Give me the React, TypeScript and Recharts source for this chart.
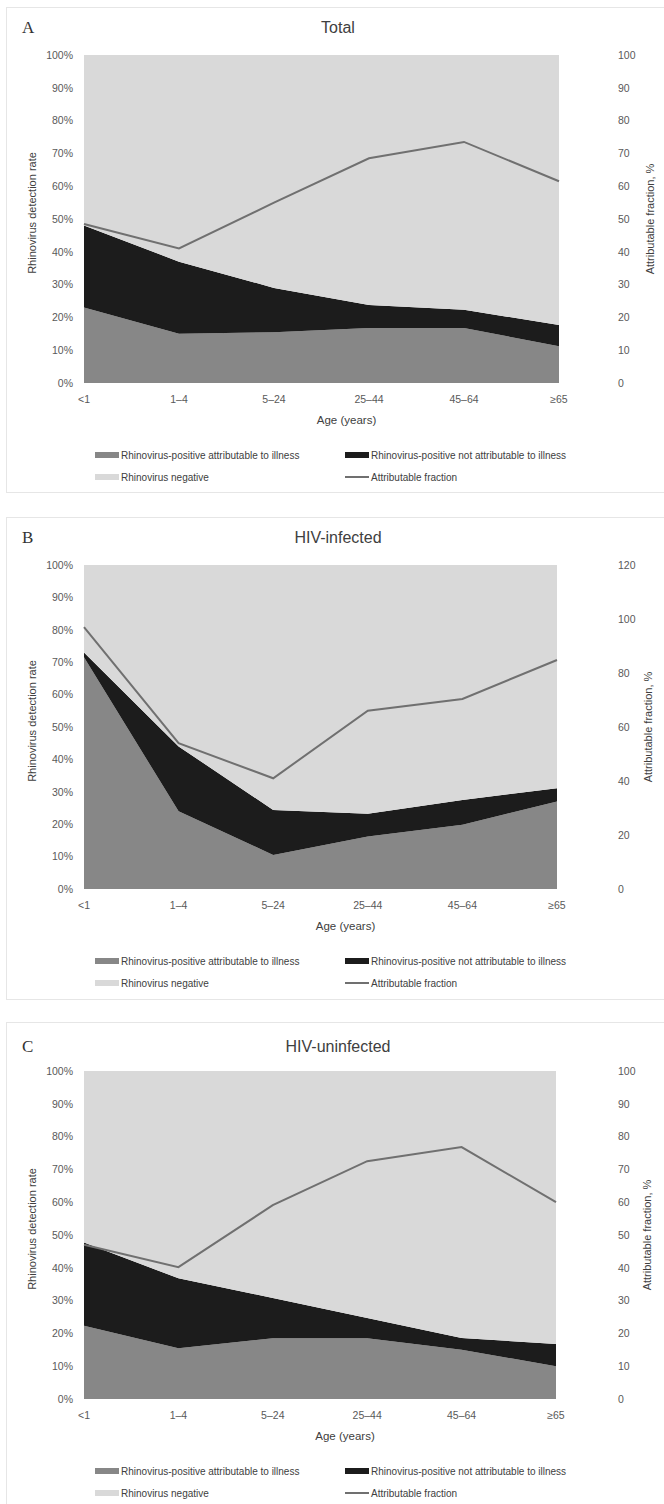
import React from 'react';
import {Area, ComposedChart, Label, Legend, Line, XAxis, YAxis} from 'recharts';

const ageGroups = ['<1', '1–4', '5–24', '25–44', '45–64', '≥65'];

// Panel A - Total
const totalAttrib = [23, 15, 15.5, 16.8, 16.8, 11.2];
const totalNotAttrib = [25, 22, 13.5, 7, 5.5, 6.5];
const totalFraction = [48.5, 41, 55, 68.5, 73.5, 61.5];

// Panel B - HIV-infected
const hivPosAttrib = [71.5, 24, 10.5, 16.2, 19.8, 27];
const hivPosNotAttrib = [1.5, 20, 13.9, 7, 7.7, 4.1];
const hivPosFraction = [97, 54, 41, 66, 70.4, 84.8];

// Panel C - HIV-uninfected
const hivNegAttrib = [22.3, 15.5, 18.5, 18.5, 15, 10];
const hivNegNotAttrib = [25.4, 21.3, 12.3, 6.2, 3.6, 6.8];
const hivNegFraction = [47, 40.2, 59.1, 72.5, 76.8, 60];

const leftTicks = [0, 10, 20, 30, 40, 50, 60, 70, 80, 90, 100];
const rightTicks100 = [0, 10, 20, 30, 40, 50, 60, 70, 80, 90, 100];
const rightTicks120 = [0, 20, 40, 60, 80, 100, 120];

const COLORS = {
    attrib: '#878787',
    notAttrib: '#1c1c1c',
    negative: '#d9d9d9',
    fraction: '#707070',
};

const legendItems = [
    {key: 'attrib', name: 'Rhinovirus-positive attributable to illness', color: COLORS.attrib, kind: 'area'},
    {key: 'notAttrib', name: 'Rhinovirus-positive not attributable to illness', color: COLORS.notAttrib, kind: 'area'},
    {key: 'negative', name: 'Rhinovirus negative', color: COLORS.negative, kind: 'area'},
    {key: 'fraction', name: 'Attributable fraction', color: COLORS.fraction, kind: 'line'},
];

const buildRows = (attrib: number[], notAttrib: number[], fraction: number[]) =>
    ageGroups.map((age, i) => ({
        age,
        attrib: attrib[i],
        notAttrib: notAttrib[i],
        negative: 100 - attrib[i] - notAttrib[i],
        fraction: fraction[i],
    }));

const panels = [
    {
        letter: 'A', title: 'Total', top: 7, height: 486, titleY: 21, plotTop: 48, plotHeight: 328, plotRight: 559,
        rows: buildRows(totalAttrib, totalNotAttrib, totalFraction), rightMax: 100, rightTicks: rightTicks100,
    },
    {
        letter: 'B', title: 'HIV-infected', top: 517, height: 483, titleY: 21, plotTop: 48, plotHeight: 324, plotRight: 557,
        rows: buildRows(hivPosAttrib, hivPosNotAttrib, hivPosFraction), rightMax: 120, rightTicks: rightTicks120,
    },
    {
        letter: 'C', title: 'HIV-uninfected', top: 1022, height: 490, titleY: 25, plotTop: 49, plotHeight: 328, plotRight: 556,
        rows: buildRows(hivNegAttrib, hivNegNotAttrib, hivNegFraction), rightMax: 100, rightTicks: rightTicks100,
    },
];

const FONT = '"Liberation Sans", Arial, sans-serif';
const tickStyle = {fill: '#595959', fontSize: 10.5, fontFamily: FONT};

const LegendBlock = () => {
    const cols = [95, 345];
    const rowsY = [10, 32];
    return (
        <div style={{position: 'relative', width: 664, height: 44, fontFamily: FONT, fontSize: 10, color: '#404040'}}>
            {legendItems.map((item, i) => {
                const x = cols[i % 2];
                const y = rowsY[Math.floor(i / 2)];
                return (
                    <div key={item.key} style={{position: 'absolute', left: x, top: y - 7, height: 14, display: 'flex', alignItems: 'center', whiteSpace: 'nowrap'}}>
                        {item.kind === 'area'
                            ? <span style={{display: 'inline-block', width: 24, height: 6, background: item.color}}/>
                            : <span style={{display: 'inline-block', width: 24, height: 2, background: item.color}}/>}
                        <span style={{marginLeft: 2}}>{item.name}</span>
                    </div>
                );
            })}
        </div>
    );
};

const Panel = ({p}: {p: typeof panels[number]}) => {
    const plotBottom = p.plotTop + p.plotHeight;
    const rightWidth = 95;
    const marginRight = 664 - p.plotRight - rightWidth;
    return (
        <div style={{position: 'absolute', left: 0, top: p.top, width: 664, height: p.height}}>
            <div style={{position: 'absolute', left: 6, top: 0, width: 720, height: p.height, boxSizing: 'border-box', border: '1px solid #e6e6e6'}}/>
            <div style={{position: 'absolute', left: 22, top: p.titleY - 10, lineHeight: '20px', fontFamily: '"Liberation Serif", serif', fontSize: 17, color: '#333'}}>
                {p.letter}
            </div>
            <div style={{position: 'absolute', left: 0, width: 676, top: p.titleY - 10, lineHeight: '20px', textAlign: 'center', fontFamily: FONT, fontSize: 16, color: '#404040'}}>
                {p.title}
            </div>
            <div style={{position: 'absolute', left: 0, top: 0}}>
                <ComposedChart
                    width={664}
                    height={plotBottom + 44 + 60}
                    data={p.rows}
                    margin={{top: p.plotTop, right: marginRight, left: 20, bottom: 60}}
                >
                    <XAxis
                        dataKey="age"
                        scale="point"
                        padding={{left: 0, right: 0}}
                        height={44}
                        axisLine={false}
                        tickLine={false}
                        tickSize={0}
                        tickMargin={13}
                        tick={tickStyle}
                    >
                        <Label value="Age (years)" position="insideBottom" offset={3} dx={25}
                               style={{fill: '#404040', fontSize: 11.5, fontFamily: FONT}}/>
                    </XAxis>
                    <YAxis
                        yAxisId="left"
                        width={64}
                        domain={[0, 100]}
                        ticks={leftTicks}
                        tickFormatter={(v) => `${v}%`}
                        axisLine={false}
                        tickLine={false}
                        tickSize={0}
                        tickMargin={11}
                        tick={tickStyle}
                        interval={0}
                    >
                        <Label value="Rhinovirus detection rate" position="insideLeft" offset={12} angle={-90} dy={-6}
                               style={{textAnchor: 'middle', fill: '#404040', fontSize: 11, fontFamily: FONT}}/>
                    </YAxis>
                    <YAxis
                        yAxisId="right"
                        orientation="right"
                        width={rightWidth}
                        domain={[0, p.rightMax]}
                        ticks={p.rightTicks}
                        axisLine={false}
                        tickLine={false}
                        tickSize={0}
                        tickMargin={618 - p.plotRight}
                        tick={tickStyle}
                        interval={0}
                    >
                        <Label value="Attributable fraction, %" position="insideRight" offset={4} angle={-90}
                               style={{textAnchor: 'middle', fill: '#404040', fontSize: 11, fontFamily: FONT}}/>
                    </YAxis>
                    <Legend
                        layout="horizontal"
                        verticalAlign="middle"
                        align="center"
                        wrapperStyle={{position: 'absolute', top: plotBottom + 62, left: 0, width: 664, height: 44}}
                        content={() => <LegendBlock/>}
                    />
                    <Area yAxisId="left" type="linear" dataKey="attrib" stackId="rv" name={legendItems[0].name}
                          fill={COLORS.attrib} fillOpacity={1} stroke="none" isAnimationActive={false}/>
                    <Area yAxisId="left" type="linear" dataKey="notAttrib" stackId="rv" name={legendItems[1].name}
                          fill={COLORS.notAttrib} fillOpacity={1} stroke="none" isAnimationActive={false}/>
                    <Area yAxisId="left" type="linear" dataKey="negative" stackId="rv" name={legendItems[2].name}
                          fill={COLORS.negative} fillOpacity={1} stroke="none" isAnimationActive={false}/>
                    <Line yAxisId="right" type="linear" dataKey="fraction" name={legendItems[3].name}
                          stroke={COLORS.fraction} strokeWidth={2} dot={false} activeDot={false} isAnimationActive={false}/>
                </ComposedChart>
            </div>
        </div>
    );
};

const App = () => {
    return (
        <div style={{position: 'absolute', left: 0, top: 0, width: 664, height: 1504, overflow: 'hidden', background: '#fff'}}>
            {panels.map((p) => <Panel key={p.letter} p={p}/>)}
        </div>
    );
};

export default App;
